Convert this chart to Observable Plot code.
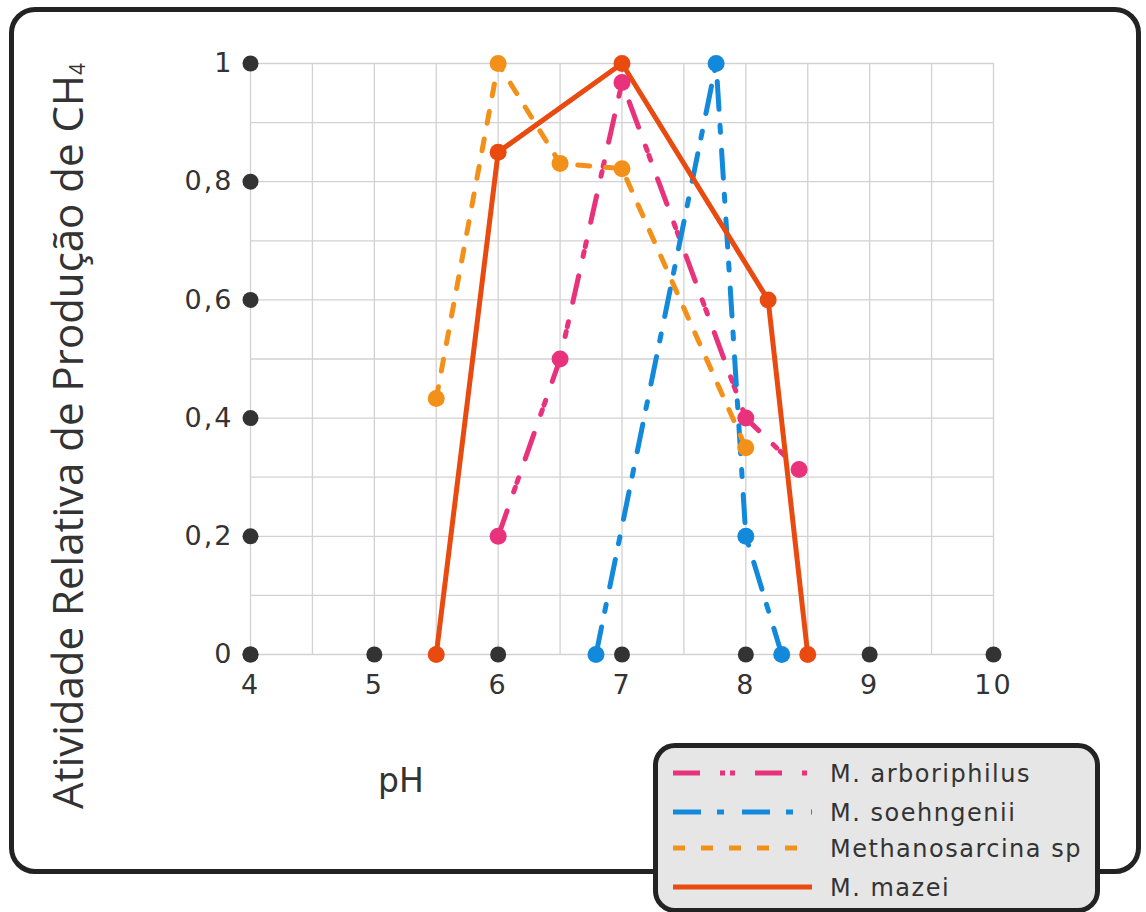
<!DOCTYPE html>
<html>
<head>
<meta charset="utf-8">
<script src="https://cdn.jsdelivr.net/npm/d3@7"></script>
<script src="https://cdn.jsdelivr.net/npm/@observablehq/plot@0.6"></script>
<style>
  html, body { margin: 0; padding: 0; background: #fff; }
  #wrap { position: relative; width: 1146px; height: 912px; overflow: hidden; }
  #frame { position: absolute; left: 9px; top: 7px; width: 1122px; height: 857px;
           border: 5px solid #232323; border-radius: 26px; pointer-events: none; }
  #ytitle { position: absolute; left: 66px; top: 436px; transform: translate(-50%, -50%) rotate(-90deg);
            white-space: nowrap; font-family: "Open Sans", sans-serif;
            font-size: 42px; color: #333; }
  #ytitle sub { font-size: 0.5em; vertical-align: -0.1em; }
  #xtitle { position: absolute; left: 401px; top: 780px; transform: translate(-50%, -50%);
            font-family: "DejaVu Sans", Verdana, sans-serif; font-size: 33px; color: #333; }
  #legend { position: absolute; left: 653px; top: 743px; width: 437px; height: 160px;
            border: 5px solid #232323; border-radius: 22px; background: #e6e6e6; }
  #chart { position: absolute; left: 0; top: 0; }
</style>
</head>
<body>
<div id="wrap">
  <div id="chart"></div>
  <div id="frame"></div>
  <div id="ytitle">Atividade Relativa de Produção de CH<sub>4</sub></div>
  <div id="xtitle">pH</div>
  <div id="legend"></div>
</div>
<script>
// ---- data ----
const seriesNames = ["M. arboriphilus", "M. soehngenii", "Methanosarcina sp", "M. mazei"];
const seriesColors = ["#e8337c", "#1389dc", "#f39019", "#e84a10"];
const seriesDashes = ["27,20,5,5,5,20", "28,16,7,18", "12,16", null];

const phArboriphilus = [6, 6.5, 7, 8, 8.43];
const actArboriphilus = [0.2, 0.5, 0.968, 0.40, 0.313];

const phSoehngenii = [6.79, 7.76, 8.0, 8.29];
const actSoehngenii = [0, 1, 0.2, 0];

const phMethanosarcina = [5.5, 6, 6.5, 7, 8];
const actMethanosarcina = [0.433, 1, 0.831, 0.822, 0.35];

const phMazei = [5.5, 6, 7, 8.18, 8.5];
const actMazei = [0, 0.85, 1, 0.60, 0];

const xTicks = [4, 5, 6, 7, 8, 9, 10];
const yTicks = [0, 0.2, 0.4, 0.6, 0.8, 1];
const xGrid = [4, 4.5, 5, 5.5, 6, 6.5, 7, 7.5, 8, 8.5, 9, 9.5, 10];
const yGrid = [0, 0.1, 0.2, 0.3, 0.4, 0.5, 0.6, 0.7, 0.8, 0.9, 1];

// ---- build table ----
const phs = [phArboriphilus, phSoehngenii, phMethanosarcina, phMazei];
const acts = [actArboriphilus, actSoehngenii, actMethanosarcina, actMazei];
const series = seriesNames.map((name, i) => ({
  name, color: seriesColors[i], dash: seriesDashes[i],
  points: phs[i].map((ph, j) => ({ph, act: acts[i][j]}))
}));

const fontTick = "DejaVu Sans, Verdana, sans-serif";
const marks = [
  Plot.ruleX(xGrid, {x: d => d, y1: 0, y2: 1, stroke: "#d2d2d2", strokeWidth: 1.3}),
  Plot.ruleY(yGrid, {y: d => d, x1: 4, x2: 10, stroke: "#d2d2d2", strokeWidth: 1.3}),
  Plot.dot(yTicks, {x: () => 4, y: d => d, r: 8, fill: "#333"}),
  Plot.dot(xTicks, {x: d => d, y: () => 0, r: 8, fill: "#333"}),
  Plot.axisY(yTicks, {tickSize: 0, tickPadding: 17, tickFormat: d => String(d).replace(".", ","),
    fontSize: 27, fontFamily: fontTick, fill: "#333", label: null}),
  Plot.axisX(xTicks, {tickSize: 0, tickPadding: 20, tickFormat: d => String(d),
    fontSize: 27, fontFamily: fontTick, fill: "#333", label: null})
];
for (const s of series) {
  marks.push(Plot.line(s.points, {x: "ph", y: "act", stroke: s.color, strokeWidth: 5,
    strokeDasharray: s.dash || undefined, strokeLinejoin: "round"}));
}
for (const s of series) {
  marks.push(Plot.dot(s.points, {x: "ph", y: "act", r: 8.5, fill: s.color}));
}

const chart = Plot.plot({
  width: 1146, height: 912,
  marginLeft: 250, marginRight: 153, marginTop: 63, marginBottom: 258,
  x: {domain: [4, 10], axis: null},
  y: {domain: [0, 1], axis: null},
  style: {background: "transparent", overflow: "visible"},
  marks
});
chart.querySelectorAll("text").forEach(t => t.setAttribute("letter-spacing", "2"));
document.getElementById("chart").append(chart);

// ---- legend ----
const ns = "http://www.w3.org/2000/svg";
const lg = document.createElementNS(ns, "svg");
lg.setAttribute("width", 437); lg.setAttribute("height", 160);
const rowY = [25, 64, 100, 139];
series.forEach((s, i) => {
  const ln = document.createElementNS(ns, "line");
  ln.setAttribute("x1", 15); ln.setAttribute("x2", 154);
  ln.setAttribute("y1", rowY[i]); ln.setAttribute("y2", rowY[i]);
  ln.setAttribute("stroke", s.color); ln.setAttribute("stroke-width", 5);
  if (s.dash) ln.setAttribute("stroke-dasharray", s.dash);
  lg.append(ln);
  const t = document.createElementNS(ns, "text");
  t.setAttribute("x", 172); t.setAttribute("y", rowY[i]);
  t.setAttribute("dy", "0.36em");
  t.setAttribute("font-family", fontTick); t.setAttribute("font-size", 24);
  t.setAttribute("letter-spacing", "1.5");
  t.setAttribute("fill", "#333");
  t.textContent = s.name;
  lg.append(t);
});
document.getElementById("legend").append(lg);
</script>
</body>
</html>
